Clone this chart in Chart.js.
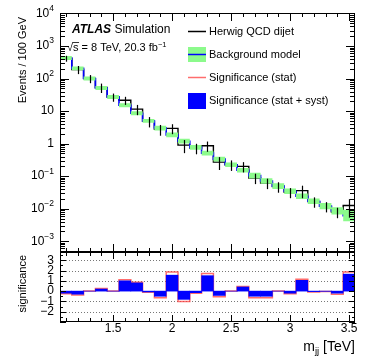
<!DOCTYPE html>
<html>
<head>
<meta charset="utf-8">
<script src="https://cdn.jsdelivr.net/npm/chart.js@4.4.0/dist/chart.umd.min.js"></script>
<style>
  html, body { margin: 0; padding: 0; background: #fff; }
  #wrap { position: relative; width: 374px; height: 359px; }
  canvas { position: absolute; left: 0; }
  #top { top: 0; }
  #bot { top: 250px; }
</style>
</head>
<body>
<div id="wrap">
  <canvas id="top" width="374" height="254"></canvas>
  <canvas id="bot" width="374" height="109"></canvas>
</div>
<script>
const FONT = '"Liberation Sans", Arial, Helvetica, sans-serif';
Chart.defaults.font.family = FONT;

// bins in m_jj [TeV]
const binEdges = [1.05, 1.15, 1.25, 1.35, 1.45, 1.55, 1.65, 1.75, 1.85, 1.95, 2.05, 2.15, 2.25,
                  2.35, 2.45, 2.55, 2.65, 2.75, 2.85, 2.95, 3.05, 3.15, 3.25, 3.35, 3.45, 3.55];

// Herwig QCD dijet (events / 100 GeV) and its error
const herwig    = [415, 190, 100, 53, 27, 21.5, 11.5, 4.85, 2.75, 2.95, 0.9, 0.73, 0.86,
                   0.27, 0.225, 0.2, 0.088, 0.062, 0.048, 0.032, 0.036, 0.0165, 0.0118, 0.0079, 0.0125];
const herwigErr = [85, 53, 28, 17, 7.6, 6, 4, 1.7, 1.0, 1.0, 0.39, 0.26, 0.3,
                   0.115, 0.08, 0.07, 0.031, 0.022, 0.017, 0.011, 0.015, 0.0058, 0.0041, 0.0028, 0.0072];

// background model and its relative band
const bgModel = [431, 206, 101, 51.5, 27.3, 15.1, 8.57, 5.0, 3.01, 1.86, 1.19, 0.77, 0.51,
                 0.335, 0.224, 0.152, 0.104, 0.0713, 0.0493, 0.0344, 0.0242, 0.017, 0.012, 0.00857, 0.00614];
const bgBand  = [0.15, 0.15, 0.15, 0.15, 0.15, 0.15, 0.15, 0.15, 0.18, 0.18, 0.18, 0.18, 0.18,
                 0.18, 0.18, 0.18, 0.22, 0.22, 0.22, 0.22, 0.22, 0.22, 0.25, 0.3, 0.5];

// significance per bin
const sigStat = [-0.25, -0.37, 0, 0.25, 0, 1.1, 0.85, -0.1, -0.65, 1.85, -1.0, -0.2, 1.7,
                 -0.55, 0, 0.45, -0.65, -0.65, 0, -0.25, 1.15, -0.08, -0.03, -0.3, 1.85];
const sigSyst = [-0.2, -0.3, 0, 0.2, 0, 1.0, 0.8, -0.08, -0.5, 1.55, -0.8, -0.15, 1.5,
                 -0.42, 0, 0.4, -0.5, -0.5, 0, -0.2, 1.05, -0.05, -0.02, -0.2, 1.65];

const xMajor = [1.5, 2, 2.5, 3, 3.5];
const xMajorLabels = ['1.5', '2', '2.5', '3', '3.5'];
const sigTicks = [3, 2, 1, 0, -1, -2];
const sigTickLabels = ['3', '2', '1', '0', '\u22121', '\u22122'];
const sigGrid = [3, 2, 1, -1, -2];

const GREEN = 'rgb(140,250,140)';
const BLUE  = '#0000ff';
const RED   = 'rgba(255,60,60,0.75)';

const binCenters = binEdges.slice(0, -1).map((e, i) => (e + binEdges[i + 1]) / 2);
const X_MIN = binEdges[0], X_MAX = binEdges[binEdges.length - 1];

function steps(vals) {
  const p = vals.map((v, i) => ({ x: binEdges[i], y: v }));
  p.push({ x: binEdges[vals.length], y: vals[vals.length - 1] });
  return p;
}

function runText(ctx, parts, x, y, align) {
  const fonts = parts.map(p => `${p.style || ''} ${p.size}px ${FONT}`);
  const widths = parts.map((p, i) => { ctx.font = fonts[i]; return ctx.measureText(p.t).width; });
  const total = widths.reduce((s, w) => s + w, 0);
  let cx = align === 'right' ? x - total : align === 'center' ? x - total / 2 : x;
  ctx.textAlign = 'left';
  parts.forEach((p, i) => { ctx.font = fonts[i]; ctx.fillText(p.t, cx, y + (p.dy || 0)); cx += widths[i]; });
  return total;
}

function line(ctx, x1, y1, x2, y2) {
  ctx.beginPath(); ctx.moveTo(x1, y1); ctx.lineTo(x2, y2); ctx.stroke();
}

function xTicks(ctx, a, x, majLen, minLen) {
  for (let k = 11; k <= 35; k++) {
    const v = k / 10;
    const px = Math.round(x.getPixelForValue(v)) + 0.5;
    const len = (k % 5 === 0) ? majLen : minLen;
    line(ctx, px, a.top, px, a.top + len);
    line(ctx, px, a.bottom, px, a.bottom - len);
  }
}

function frame(ctx, a) {
  ctx.strokeRect(Math.round(a.left) + 0.5, Math.round(a.top) + 0.5,
                 Math.round(a.right - a.left) - 1, Math.round(a.bottom - a.top) - 1);
}

const upperDecor = {
  id: 'upperDecor',
  afterDatasetsDraw(chart) {
    const { ctx, chartArea: a, scales: { x, y } } = chart;
    ctx.save();
    ctx.beginPath(); ctx.rect(a.left, a.top, a.right - a.left, a.bottom - a.top); ctx.clip();
    ctx.strokeStyle = '#000'; ctx.lineWidth = 1.2;
    herwig.forEach((v, i) => {
      const px = Math.round(x.getPixelForValue(binCenters[i])) + 0.5;
      const lo = Math.max(v - herwigErr[i], 1e-6);
      line(ctx, px, y.getPixelForValue(v + herwigErr[i]), px, y.getPixelForValue(lo));
    });
    ctx.restore();
  },
  afterDraw(chart) {
    const { ctx, chartArea: a, scales: { x, y } } = chart;
    ctx.save();
    ctx.strokeStyle = '#000'; ctx.fillStyle = '#000'; ctx.lineWidth = 1;
    frame(ctx, a);
    xTicks(ctx, a, x, 8, 4);
    for (let n = -4; n <= 4; n++) {
      for (let k = 1; k <= 9; k++) {
        const v = k * Math.pow(10, n);
        if (v < y.min || v > y.max) continue;
        const py = Math.round(y.getPixelForValue(v)) + 0.5;
        const len = k === 1 ? 9 : 5;
        line(ctx, a.left, py, a.left + len, py);
        line(ctx, a.right, py, a.right - len, py);
      }
    }
    // y labels
    ctx.textBaseline = 'middle';
    for (let n = 4; n >= -3; n--) {
      const py = y.getPixelForValue(Math.pow(10, n));
      let parts;
      if (n === 0) parts = [{ t: '1', size: 12 }];
      else if (n === 1) parts = [{ t: '10', size: 12 }];
      else parts = [{ t: '10', size: 12 }, { t: (n < 0 ? '\u2212' : '') + Math.abs(n), size: 8.5, dy: -5 }];
      runText(ctx, parts, 54, py, 'right');
    }
    // y title
    ctx.save();
    ctx.translate(23, 17); ctx.rotate(-Math.PI / 2);
    ctx.textAlign = 'right'; ctx.font = `11px ${FONT}`;
    ctx.fillText('Events / 100 GeV', 0, 0);
    ctx.restore();
    // ATLAS label
    ctx.textBaseline = 'alphabetic';
    runText(ctx, [{ t: 'ATLAS', size: 12, style: 'italic bold' }, { t: ' Simulation', size: 12 }], 72, 33, 'left');
    const w0 = runText(ctx, [{ t: '\u221a', size: 11 }], 67, 51, 'left');
    ctx.font = `11px ${FONT}`;
    const ws = ctx.measureText('s').width;
    ctx.lineWidth = 0.8;
    line(ctx, 67 + w0 - 0.5, 42.5, 67 + w0 + ws + 0.5, 42.5);
    runText(ctx, [{ t: 's = 8 TeV, 20.3 fb', size: 11 }, { t: '\u22121', size: 7.5, dy: -4 }], 67 + w0, 51, 'left');
    // legend
    ctx.lineWidth = 1.5;
    ctx.strokeStyle = '#000';
    line(ctx, 188, 31.5, 206, 31.5);
    ctx.fillStyle = GREEN; ctx.fillRect(188, 47, 18, 15);
    ctx.strokeStyle = BLUE; line(ctx, 188, 54.5, 206, 54.5);
    ctx.strokeStyle = RED; line(ctx, 188, 77.5, 206, 77.5);
    ctx.fillStyle = BLUE; ctx.fillRect(188, 93, 18, 16);
    ctx.fillStyle = '#000'; ctx.textBaseline = 'middle'; ctx.textAlign = 'left';
    ctx.font = `11px ${FONT}`;
    ctx.fillText('Herwig QCD dijet', 209, 32);
    ctx.fillText('Background model', 209, 55);
    ctx.fillText('Significance (stat)', 209, 78);
    ctx.fillText('Significance (stat + syst)', 209, 101);
    ctx.restore();
  }
};

const lowerDecor = {
  id: 'lowerDecor',
  beforeDatasetsDraw(chart) {
    const { ctx, chartArea: a, scales: { y } } = chart;
    ctx.save();
    ctx.strokeStyle = '#777'; ctx.lineWidth = 1; ctx.setLineDash([1, 2]);
    sigGrid.forEach(v => {
      const py = Math.round(y.getPixelForValue(v)) + 0.5;
      line(ctx, a.left, py, a.right, py);
    });
    ctx.restore();
  },
  afterDraw(chart) {
    const { ctx, chartArea: a, scales: { x, y } } = chart;
    ctx.save();
    ctx.strokeStyle = '#000'; ctx.fillStyle = '#000'; ctx.lineWidth = 1;
    frame(ctx, a);
    xTicks(ctx, a, x, 7, 4);
    for (let k = -6; k <= 7; k++) {
      const v = k / 2;
      const py = Math.round(y.getPixelForValue(v)) + 0.5;
      const len = (k % 2 === 0) ? 6 : 3;
      line(ctx, a.left, py, a.left + len, py);
      line(ctx, a.right, py, a.right - len, py);
    }
    ctx.textBaseline = 'middle';
    ctx.font = `12px ${FONT}`;
    ctx.textAlign = 'right';
    sigTicks.forEach((v, i) => ctx.fillText(sigTickLabels[i], 54, y.getPixelForValue(v)));
    ctx.textAlign = 'center';
    xMajor.forEach((v, i) => ctx.fillText(xMajorLabels[i], x.getPixelForValue(v), 79));
    // axis titles
    ctx.save();
    ctx.translate(23, 5); ctx.rotate(-Math.PI / 2);
    ctx.textAlign = 'right'; ctx.font = `11px ${FONT}`;
    ctx.fillText('significance', 0, 0);
    ctx.restore();
    ctx.textBaseline = 'alphabetic';
    runText(ctx, [{ t: 'm', size: 14 }, { t: 'jj', size: 9.5, dy: 3 }, { t: ' [TeV]', size: 14 }], 355, 101, 'right');
    ctx.restore();
  }
};

const bgLine = steps(bgModel);
bgLine.push({ x: X_MAX, y: 1e-6 });

new Chart(document.getElementById('top'), {
  type: 'line',
  data: {
    datasets: [
      { data: steps(bgModel.map((v, i) => v * (1 + bgBand[i]))), borderWidth: 0, borderColor: 'rgba(0,0,0,0)',
        pointRadius: 0, stepped: true, fill: false },
      { data: steps(bgModel.map((v, i) => v / (1 + bgBand[i]))), borderWidth: 0, borderColor: 'rgba(0,0,0,0)',
        pointRadius: 0, stepped: true, fill: '-1', backgroundColor: GREEN },
      { data: bgLine, borderColor: BLUE, borderWidth: 1.6, pointRadius: 0, stepped: true, fill: false },
      { data: steps(herwig), borderColor: '#000', borderWidth: 1.4, pointRadius: 0, stepped: true, fill: false },
    ],
  },
  options: {
    responsive: false,
    animation: false,
    events: [],
    layout: { padding: { left: 60, right: 19, top: 13, bottom: 2 } },
    plugins: { legend: { display: false }, tooltip: { enabled: false } },
    scales: {
      x: { type: 'linear', min: X_MIN, max: X_MAX, display: false },
      y: { type: 'logarithmic', min: 4.67e-4, max: 1.036e4, display: false },
    },
  },
  plugins: [upperDecor],
});

new Chart(document.getElementById('bot'), {
  type: 'bar',
  data: {
    datasets: [
      { type: 'line', data: steps(sigStat), borderColor: RED, borderWidth: 1.5, pointRadius: 0,
        stepped: true, fill: false, order: 2 },
      { type: 'bar', data: binCenters.map((c, i) => ({ x: c, y: sigSyst[i] })), backgroundColor: BLUE,
        barPercentage: 1, categoryPercentage: 1, borderWidth: 0, order: 1 },
    ],
  },
  options: {
    responsive: false,
    animation: false,
    events: [],
    layout: { padding: { left: 60, right: 19, top: 2, bottom: 37 } },
    plugins: { legend: { display: false }, tooltip: { enabled: false } },
    scales: {
      x: { type: 'linear', min: X_MIN, max: X_MAX, offset: false, display: false,
           afterBuildTicks: s => { s.ticks = binEdges.map(v => ({ value: v })); } },
      y: { type: 'linear', min: -3, max: 3.8, display: false },
    },
  },
  plugins: [lowerDecor],
});
</script>
</body>
</html>
